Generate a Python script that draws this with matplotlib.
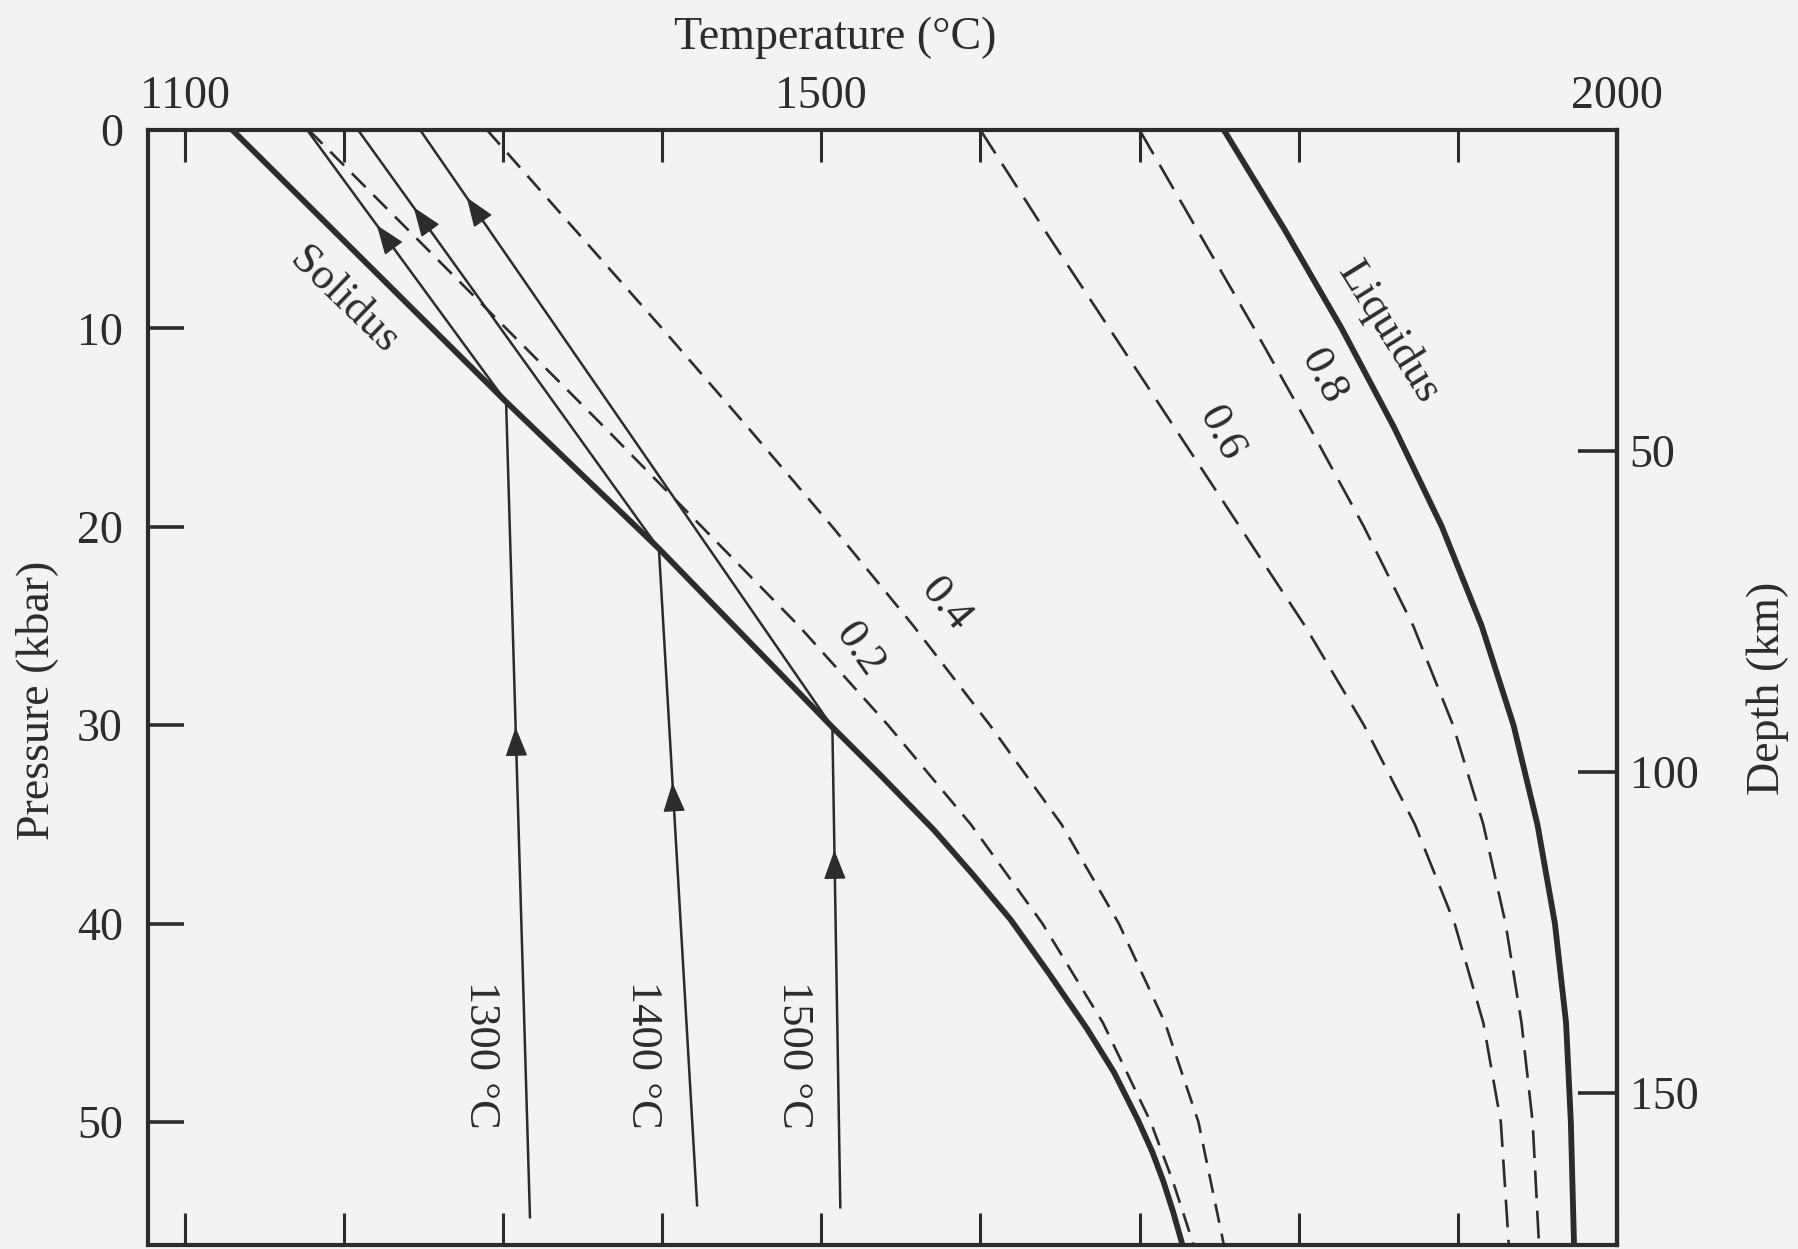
import matplotlib
matplotlib.use("Agg")
import matplotlib.pyplot as plt

plt.rcParams["font.family"] = ["Liberation Serif", "DejaVu Serif"]
plt.rcParams["lines.scale_dashes"] = False

INK = "#2c2c2c"
PAPER = "#f3f3f3"

# ---- melting relations of peridotite: temperature (deg C) vs pressure (kbar)
solidus_P = [0, 13.7, 21.1, 30.1, 32.5, 35.3, 37.5, 39.8, 42.5, 45.3,
             47.5, 49.9, 51.5, 53.0, 54.5, 56.2]
solidus_T = [1130, 1302, 1398, 1507, 1537, 1571, 1595, 1619, 1643, 1667,
             1684, 1699, 1708, 1715, 1721, 1727]

liquidus_P = [0, 5, 10, 15, 20, 25, 30, 35, 40, 45, 50, 56.2]
liquidus_T = [1753, 1791, 1827, 1860, 1890, 1915, 1935, 1950, 1961, 1968, 1971, 1973]

# lines of equal melt fraction
melt_02_P = [0, 5, 10, 15, 20, 25, 30, 35, 40, 45, 50, 53, 56.2]
melt_02_T = [1178, 1240, 1302, 1364, 1425, 1486, 1542, 1594, 1639, 1677, 1707, 1721, 1734]

melt_04_P = [0, 5, 10, 15, 20, 25, 30, 35, 40, 45, 50, 56.2]
melt_04_T = [1290, 1345, 1400, 1454, 1507, 1558, 1606, 1651, 1687, 1716, 1737, 1753]

melt_06_P = [0, 5, 10, 15, 20, 25, 30, 35, 40, 45, 50, 56.2]
melt_06_T = [1600, 1640, 1681, 1722, 1763, 1804, 1841, 1873, 1898, 1916, 1927, 1932]

melt_08_P = [0, 5, 10, 15, 20, 25, 30, 35, 40, 45, 50, 56.2]
melt_08_T = [1700, 1736, 1772, 1807, 1841, 1872, 1897, 1916, 1930, 1940, 1947, 1951]

# ---- adiabatic ascent paths (deep start, solidus crossing, surface)
path_names = ["1300 \u00b0C", "1400 \u00b0C", "1500 \u00b0C"]
path_T = [[1317, 1302, 1177], [1422, 1398, 1209], [1512, 1507, 1248]]
path_P = [[54.8, 13.7, 0.0], [54.2, 21.1, 0.0], [54.3, 30.1, 0.0]]
# pressures of the arrow tips on the sub-solidus and melting legs
arrow_deep_P = [30.1, 32.9, 36.3]
arrow_melt_P = [4.8, 3.9, 3.4]

temp_ticks = list(range(1100, 2001, 100))
temp_labels = ["1100", "", "", "", "1500", "", "", "", "", "2000"]
pressure_ticks = [0, 10, 20, 30, 40, 50]
depth_ticks = [50, 100, 150]
KM_PER_KBAR = 3.09

W, H = 1798, 1249
fig = plt.figure(figsize=(W / 100, H / 100), dpi=100, facecolor=PAPER)
ax = fig.add_axes([148 / W, 4 / H, 1469 / W, 1115 / H], facecolor=PAPER)

ax.set_xlim(1077, 2000)
ax.set_ylim(56.2, 0)

thick = dict(color=INK, lw=4.2, solid_capstyle="butt", solid_joinstyle="round")
thin = dict(color=INK, lw=1.8)

ax.plot(solidus_T, solidus_P, **thick)
ax.plot(liquidus_T, liquidus_P, **thick)

for T, P, dash in [(melt_02_T, melt_02_P, (14, 8)),
                   (melt_04_T, melt_04_P, (14, 8)),
                   (melt_06_T, melt_06_P, (20, 9)),
                   (melt_08_T, melt_08_P, (20, 9))]:
    ln, = ax.plot(T, P, color=INK, lw=1.9)
    ln.set_dashes(dash)


def point_on(T, P, p):
    """Temperature on the segment (T[0],P[0])-(T[1],P[1]) at pressure p."""
    f = (p - P[0]) / (P[1] - P[0])
    return T[0] + f * (T[1] - T[0])


def arrowhead(T, P, p_tip):
    p_tail = p_tip + 1.6
    ax.annotate("", xy=(point_on(T, P, p_tip), p_tip),
                xytext=(point_on(T, P, p_tail), p_tail),
                arrowprops=dict(arrowstyle="-|>,head_length=0.85,head_width=0.32",
                                color=INK, lw=1.0, mutation_scale=22,
                                shrinkA=0, shrinkB=0))


for i in range(3):
    ax.plot(path_T[i], path_P[i], **thin)
    arrowhead(path_T[i][:2], path_P[i][:2], arrow_deep_P[i])
    arrowhead(path_T[i][1:], path_P[i][1:], arrow_melt_P[i])

# ---- curve labels
lab = dict(color=INK, fontsize=32, ha="center", va="center", rotation_mode="anchor")
ax.text(1200, 8.6, "Solidus", rotation=-44, **lab)
ax.text(1857, 10.2, "Liquidus", rotation=-58, **lab)
ax.text(1815, 12.4, "0.8", rotation=-62, **lab)
ax.text(1751, 15.3, "0.6", rotation=-62, **lab)
ax.text(1578, 23.9, "0.4", rotation=-50, **lab)
ax.text(1524, 26.2, "0.2", rotation=-55, **lab)
for name, tx in zip(path_names, [1286, 1388, 1483]):
    ax.text(tx, 46.6, name, rotation=-90, **lab)

# ---- axes styling
for s in ax.spines.values():
    s.set_linewidth(3.0)
    s.set_color(INK)

ax.set_xticks(temp_ticks)
ax.set_xticklabels(temp_labels)
ax.xaxis.set_ticks_position("both")
ax.tick_params(axis="x", direction="in", length=23, width=2.2, color=INK,
               labeltop=True, labelbottom=False, labelsize=33,
               labelcolor=INK, pad=9)

ax.set_yticks(pressure_ticks)
ax.set_yticklabels([str(v) for v in pressure_ticks])
ax.tick_params(axis="y", direction="in", length=26, width=2.6, color=INK,
               left=True, right=False, labelsize=33, labelcolor=INK, pad=18)

sec = ax.secondary_yaxis("right", functions=(lambda p: p * KM_PER_KBAR,
                                              lambda d: d / KM_PER_KBAR))
sec.set_yticks(depth_ticks)
sec.tick_params(direction="in", length=28, width=2.6, color=INK,
                labelsize=33, labelcolor=INK, pad=9)
sec.spines["right"].set_linewidth(3.0)
sec.spines["right"].set_color(INK)

fig.text(835 / W, 1 - 38 / H, "Temperature (\u00b0C)", fontsize=33,
         color=INK, ha="center", va="center")
fig.text(37 / W, 1 - 700 / H, "Pressure (kbar)", fontsize=33, color=INK,
         ha="center", va="center", rotation=90)
fig.text(1768 / W, 1 - 688 / H, "Depth (km)", fontsize=33, color=INK,
         ha="center", va="center", rotation=90)

fig.savefig("out.png", dpi=100, facecolor=PAPER)
